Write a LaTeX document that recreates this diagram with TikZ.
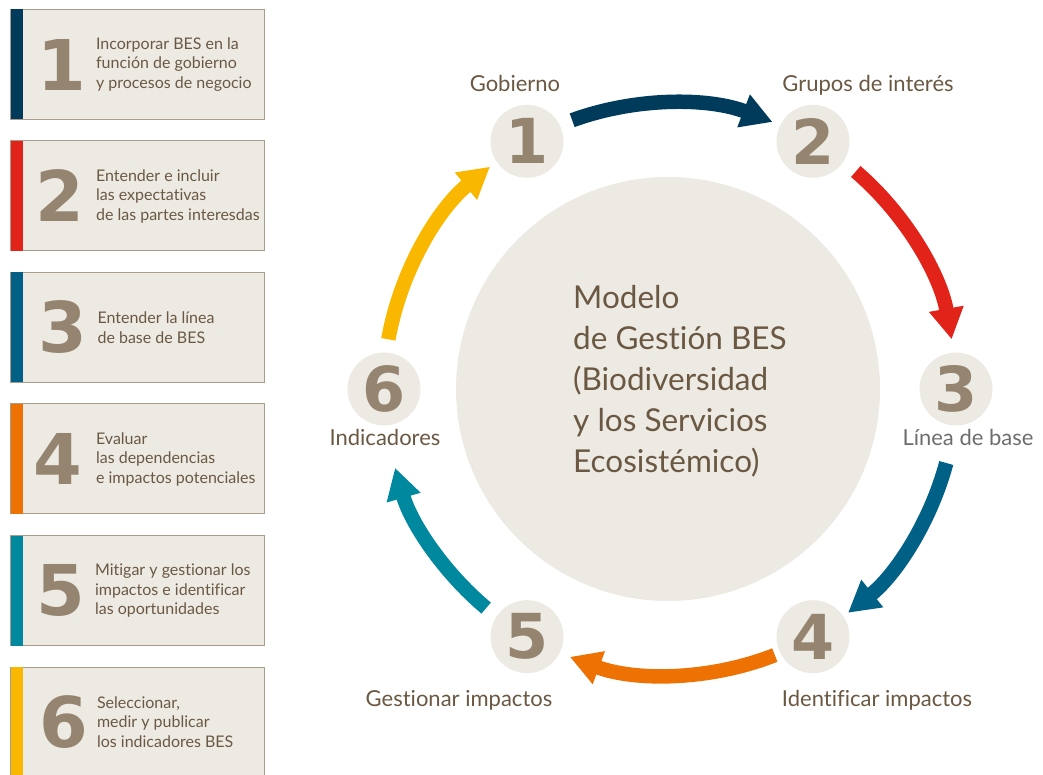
\documentclass[tikz,border=0pt]{standalone}
\usepackage{fontspec}
\setmainfont{Lato}[Ligatures=NoCommon]
\newfontfamily\numfont{DejaVu Sans}
\usetikzlibrary{arrows.meta,positioning,calc}

\definecolor{boxfill}{HTML}{EDEAE3}
\definecolor{boxline}{HTML}{A99C8B}
\definecolor{numcol}{HTML}{958570}
\definecolor{txtcol}{HTML}{6B5843}
\definecolor{greytxt}{HTML}{6D6D6D}
\definecolor{stepnavy}{HTML}{003B5C}
\definecolor{stepred}{HTML}{E2231A}
\definecolor{stepblue}{HTML}{006086}
\definecolor{steporange}{HTML}{EE7203}
\definecolor{stepteal}{HTML}{00899E}
\definecolor{stepyellow}{HTML}{F9B700}

\begin{document}
\begin{tikzpicture}[
  x=1pt, y=1pt,
  stepbox/.style={draw=boxline, line width=1pt, fill=boxfill, rectangle, minimum width=254pt, minimum height=110pt, inner sep=0pt},
  boxnum/.style={font=\numfont\bfseries\fontsize{70}{70}\selectfont, text=numcol, inner sep=0pt},
  boxtext/.style={anchor=west, align=left, text=txtcol, inner sep=0pt, font=\fontsize{16}{19.5}\selectfont},
  ringdot/.style={circle, fill=boxfill, minimum size=73pt, inner sep=0pt, text=numcol, font=\numfont\bfseries\fontsize{62}{62}\selectfont},
  ringlabel/.style={anchor=base, text=txtcol, inner sep=0pt, font=\fontsize{22}{22}\selectfont},
  coretext/.style={anchor=west, align=left, text=txtcol, inner sep=0pt, font=\fontsize{31.5}{41}\selectfont},
  arr/.style={-{Triangle[length=31pt,width=33pt]}, line width=14.5pt}
]
\useasboundingbox (0,0) rectangle (1043,774);

% left column of steps
\node[stepbox] (b1) at (137.85,709.5) {};
\node[stepbox] (b2) at (137.85,578) {};
\node[stepbox] (b3) at (137.85,446.5) {};
\node[stepbox] (b4) at (137.85,315) {};
\node[stepbox] (b5) at (137.85,183.5) {};
\node[stepbox] (b6) at (137.85,52) {};

\fill[stepnavy] ([shift={(0.5pt,-0.5pt)}]b1.north west) rectangle ([shift={(12.5pt,0.5pt)}]b1.south west);
\fill[stepred] ([shift={(0.5pt,-0.5pt)}]b2.north west) rectangle ([shift={(12.5pt,0.5pt)}]b2.south west);
\fill[stepblue] ([shift={(0.5pt,-0.5pt)}]b3.north west) rectangle ([shift={(12.5pt,0.5pt)}]b3.south west);
\fill[steporange] ([shift={(0.5pt,-0.5pt)}]b4.north west) rectangle ([shift={(12.5pt,0.5pt)}]b4.south west);
\fill[stepteal] ([shift={(0.5pt,-0.5pt)}]b5.north west) rectangle ([shift={(12.5pt,0.5pt)}]b5.south west);
\fill[stepyellow] ([shift={(0.5pt,-0.5pt)}]b6.north west) rectangle ([shift={(12.5pt,0.5pt)}]b6.south west);

\node[boxnum] (n1) at ([xshift=52pt]b1.west) {1};
\node[boxnum] (n2) at ([xshift=50pt]b2.west) {2};
\node[boxnum] (n3) at ([xshift=53pt]b3.west) {3};
\node[boxnum] (n4) at ([xshift=48pt]b4.west) {4};
\node[boxnum] (n5) at ([xshift=51pt]b5.west) {5};
\node[boxnum] (n6) at ([xshift=54pt]b6.west) {6};

\node[boxtext] (t1) at ([xshift=85.5pt]b1.west) {Incorporar BES en la\\función de gobierno\\y procesos de negocio};
\node[boxtext] (t2) at ([xshift=85.5pt]b2.west) {Entender e incluir\\las expectativas\\de las partes interesdas};
\node[boxtext] (t3) at ([xshift=87pt]b3.west) {Entender la línea\\de base de BES};
\node[boxtext] (t4) at ([xshift=85.5pt]b4.west) {Evaluar\\las dependencias\\e impactos potenciales};
\node[boxtext] (t5) at ([xshift=84.5pt]b5.west) {Mitigar y gestionar los\\impactos e identificar\\las oportunidades};
\node[boxtext] (t6) at ([xshift=86.5pt]b6.west) {Seleccionar,\\medir y publicar\\los indicadores BES};

% management cycle
\coordinate (ctr) at (670,385);
\node[circle, fill=boxfill, minimum size=424pt, inner sep=0pt] (core) at (668,385) {};
\node[coretext] (model) at (573,392.5) {Modelo\\de Gestión BES\\(Biodiversidad\\y los Servicios\\Ecosistémico)};

\node[ringdot] (r1) at ($(ctr)+(120:286)$) {1};
\node[ringdot] (r2) at ($(ctr)+(60:286)$) {2};
\node[ringdot] (r3) at ($(ctr)+(0:286)$) {3};
\node[ringdot] (r4) at ($(ctr)+(-60:286)$) {4};
\node[ringdot] (r5) at ($(ctr)+(-120:286)$) {5};
\node[ringdot] (r6) at ($(ctr)+(180:286)$) {6};

\node[ringlabel] (l1) at (515,682.3) {Gobierno};
\node[ringlabel] (l2) at (868,682.3) {Grupos de interés};
\node[ringlabel, text=greytxt] (l3) at (968,328) {Línea de base};
\node[ringlabel] (l4) at (877,68) {Identificar impactos};
\node[ringlabel] (l5) at (459,68) {Gestionar impactos};
\node[ringlabel] (l6) at (385,328) {Indicadores};

\coordinate (s1) at ($(ctr)+(110:286)$);
\coordinate (e1) at ($(ctr)+(69:286)$);
\coordinate (s2) at ($(ctr)+(49.5:286)$);
\coordinate (e2) at ($(ctr)+(10:286)$);
\coordinate (s3) at ($(ctr)+(-15:286)$);
\coordinate (e3) at ($(ctr)+(-51.5:286)$);
\coordinate (s4) at ($(ctr)+(-68.5:286)$);
\coordinate (e4) at ($(ctr)+(-110.5:286)$);
\coordinate (s5) at ($(ctr)+(-130:286)$);
\coordinate (e5) at ($(ctr)+(-164:286)$);
\coordinate (s6) at ($(ctr)+(170:286)$);
\coordinate (e6) at ($(ctr)+(129:286)$);

\draw[arr, stepnavy] (s1) to[out=20, in=159, looseness=0.87] (e1);
\draw[arr, stepred] (s2) to[out=-40.5, in=100, looseness=0.87] (e2);
\draw[arr, stepblue] (s3) to[out=-105, in=38.5, looseness=0.87] (e3);
\draw[arr, steporange] (s4) to[out=-158.5, in=-20.5, looseness=0.87] (e4);
\draw[arr, stepteal] (s5) to[out=140, in=-74, looseness=0.87] (e5);
\draw[arr, stepyellow] (s6) to[out=80, in=219, looseness=0.87] (e6);
\end{tikzpicture}
\end{document}
